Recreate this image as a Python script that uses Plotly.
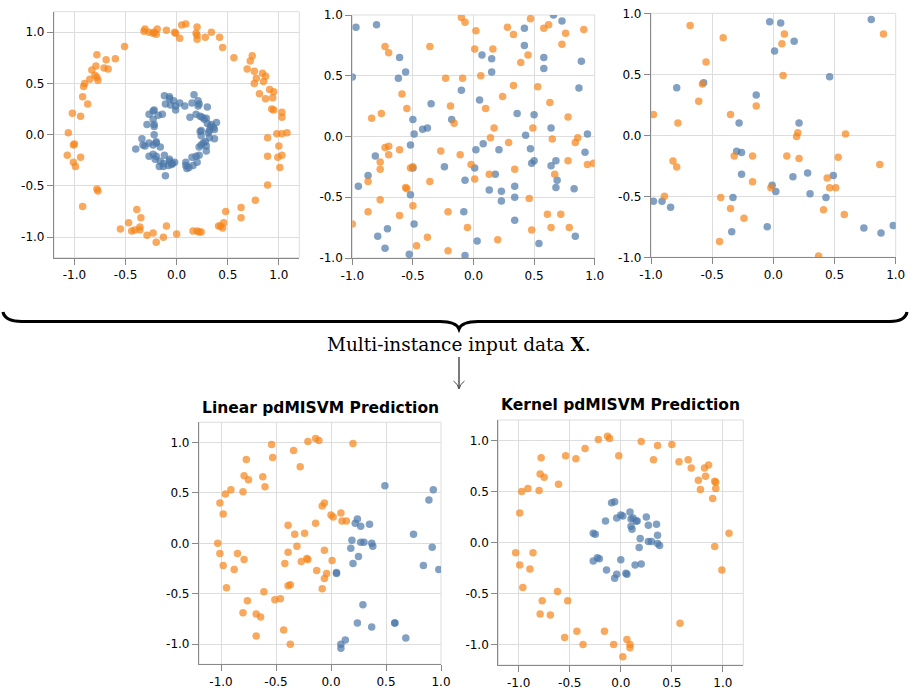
import plotly.graph_objects as go

# ---------------- data ----------------
tick_vals = [-1.0, -0.5, 0.0, 0.5, 1.0]
tick_text = ["-1.0", "-0.5", "0.0", "0.5", "1.0"]

# Panel 1: concentric rings
p1_orange_x = [-0.31,-0.32,-0.27,-0.23,-0.22,-0.19,-0.20,-0.10,-0.02,-0.01,0.05,0.09,0.03,0.20,0.19,0.20,0.20,0.28,0.34,0.42,0.45,0.56,0.74,0.72,0.69,0.76,0.78,0.76,0.84,0.87,0.85,0.81,0.87,0.91,0.95,0.94,0.93,0.95,1.03,1.03,1.08,0.98,1.03,1.00,1.03,0.99,1.01,0.89,0.89,0.89,0.77,0.63,0.48,0.63,0.46,0.43,0.41,0.45,0.16,0.20,0.22,0.24,-0.10,0.00,-0.13,-0.20,-0.23,-0.29,-0.36,-0.36,-0.41,-0.44,-0.47,-0.39,-0.35,-0.55,-0.78,-0.77,-0.92,-1.07,-1.01,-1.00,-1.01,-0.99,-0.94,-1.06,-1.02,-0.94,-0.87,-0.92,-0.91,-0.90,-0.85,-0.78,-0.77,-0.80,-0.83,-0.79,-0.78,-0.71,-0.67,-0.69,-0.60,-0.51]
p1_orange_y = [1.03,1.01,1.00,0.99,1.00,1.03,0.98,1.02,1.00,0.99,1.07,1.08,0.94,1.05,0.99,0.97,0.93,0.95,1.00,0.95,0.85,0.75,0.77,0.72,0.64,0.62,0.55,0.50,0.60,0.57,0.52,0.40,0.35,0.44,0.42,0.36,0.25,0.24,0.22,0.17,0.02,0.01,0.01,-0.11,-0.20,-0.22,-0.32,-0.03,-0.21,-0.49,-0.64,-0.71,-0.75,-0.81,-0.86,-0.89,-0.89,-0.91,-0.94,-0.94,-0.95,-0.95,-0.89,-0.97,-1.00,-1.05,-0.96,-0.98,-0.90,-0.93,-0.93,-0.94,-0.86,-0.73,-0.81,-0.92,-0.53,-0.55,-0.70,-0.20,-0.10,-0.09,-0.27,-0.31,-0.22,0.02,0.21,0.18,0.30,0.37,0.47,0.50,0.54,0.56,0.53,0.58,0.63,0.67,0.78,0.65,0.64,0.73,0.74,0.86]
p1_blue_x = [-0.12,-0.07,-0.07,-0.03,0.03,0.08,-0.11,-0.06,-0.01,-0.01,0.17,0.15,0.21,0.22,0.21,0.30,0.13,0.19,0.23,0.25,0.27,0.29,0.30,0.34,0.33,0.32,0.39,0.36,0.37,0.31,0.24,0.23,0.24,0.32,0.37,0.28,0.26,0.24,0.29,0.22,0.29,0.22,0.19,0.15,0.20,0.16,0.12,0.09,0.09,0.10,-0.02,-0.04,-0.07,-0.07,-0.08,-0.05,-0.11,-0.13,-0.17,-0.13,-0.12,-0.16,-0.20,-0.23,-0.27,-0.31,-0.33,-0.34,-0.40,-0.22,-0.22,-0.22,-0.29,-0.23,-0.18,-0.14,-0.22,-0.23,-0.27,-0.20,-0.20,-0.16,-0.21,-0.23,-0.27]
p1_blue_y = [0.38,0.37,0.35,0.33,0.31,0.28,0.30,0.29,0.24,0.28,0.39,0.31,0.33,0.30,0.28,0.27,0.17,0.20,0.18,0.17,0.15,0.16,0.11,0.10,0.08,0.04,0.12,0.07,0.05,0.02,0.04,0.03,-0.01,-0.03,-0.04,-0.07,-0.08,-0.10,-0.11,-0.12,-0.16,-0.20,-0.21,-0.22,-0.27,-0.30,-0.32,-0.27,-0.30,-0.33,-0.27,-0.28,-0.24,-0.26,-0.30,-0.29,-0.40,-0.31,-0.31,-0.28,-0.20,-0.12,-0.07,-0.10,-0.08,-0.11,-0.10,-0.04,-0.14,0.00,0.08,0.10,0.10,0.15,0.19,0.20,0.24,0.23,0.20,-0.08,-0.21,-0.26,-0.24,-0.19,-0.21]

# Panel 2: bag 1
p2_blue_x = [-0.97,-0.80,-1.00,-0.61,-0.56,-0.62,-0.35,-0.50,-0.49,-0.42,-0.38,-0.52,-0.81,-0.87,-0.95,-0.79,-0.71,-0.73,-0.53,-0.52,-0.50,-0.49,-0.24,-0.18,-0.10,-0.07,-0.08,-0.07,0.03,0.01,0.02,0.08,0.05,0.07,0.15,0.15,0.21,0.18,0.13,0.23,0.23,0.34,0.34,0.34,0.36,0.42,0.42,0.43,0.47,0.48,0.50,0.50,0.58,0.58,0.64,0.64,0.68,0.69,0.68,0.66,0.73,0.89,0.87,0.94,0.92,0.83,0.84,0.54]
p2_blue_y = [0.90,0.92,0.49,0.65,0.53,0.48,0.27,0.14,0.02,0.06,0.07,-0.07,-0.16,-0.32,-0.41,-0.82,-0.76,-0.92,-0.97,-0.48,-0.26,-0.72,-0.25,0.14,0.38,-0.36,-0.62,-0.98,-0.86,-0.26,-0.11,-0.06,0.30,0.67,0.64,0.53,-0.11,-0.31,-0.44,-0.45,-0.53,-0.41,-0.50,-0.69,0.19,0.75,0.89,0.01,-0.10,-0.22,-0.20,0.18,0.65,0.56,0.07,-0.24,-0.20,-0.36,-0.42,1.00,0.95,0.62,0.40,0.02,-0.13,-0.43,-0.82,-0.88]
p2_orange_x = [-0.73,-0.70,-0.84,-0.76,-0.59,-0.55,-0.73,-0.70,-0.70,-0.77,-0.77,-0.61,-0.87,-0.87,-1.00,-0.77,-0.61,-0.56,-0.55,-0.52,-0.50,-0.50,-0.47,-0.38,-0.36,-0.36,-0.27,-0.23,-0.19,-0.16,-0.21,-0.21,-0.11,-0.10,-0.07,-0.09,-0.05,-0.02,0.01,0.02,0.01,0.06,0.10,0.14,0.13,0.16,0.17,0.20,0.24,0.28,0.29,0.33,0.34,0.33,0.39,0.45,0.47,0.46,0.49,0.48,0.53,0.58,0.62,0.63,0.65,0.67,0.61,0.64,0.73,0.76,0.72,0.78,0.78,0.79,0.84,0.86,0.91,0.94,0.99]
p2_orange_y = [0.74,0.69,0.15,0.19,0.35,0.23,-0.09,-0.08,-0.15,-0.21,-0.27,-0.11,-0.37,-0.62,-0.72,-0.52,-0.65,-0.42,-0.43,-0.26,-0.25,-0.57,-0.90,-0.83,-0.37,0.74,-0.12,0.48,0.25,0.11,-0.62,-0.94,-0.15,0.98,0.94,0.48,-0.75,-0.23,-0.35,0.87,0.72,0.50,0.23,-0.01,-0.31,0.72,0.07,-0.85,0.33,0.90,-0.05,0.84,-0.27,0.42,0.61,0.67,0.97,-0.51,0.07,-0.77,0.41,0.89,0.92,0.28,-0.02,-0.31,-0.64,-0.75,0.76,0.85,-0.64,0.16,-0.20,-0.75,-0.05,-0.01,0.88,-0.23,-0.22]

# Panel 3: bag 2
p3_blue_x = [-0.03,0.06,0.01,0.17,0.80,0.46,-0.14,-0.79,-0.57,-0.28,0.21,-0.30,-0.26,-0.26,-0.33,-0.34,-0.05,-0.01,0.02,0.16,0.28,0.30,0.43,0.49,-0.98,-0.91,-0.84,0.74,0.88,0.98]
p3_blue_y = [0.93,0.92,0.69,0.77,0.95,0.48,0.33,0.39,0.43,0.10,0.10,-0.13,-0.14,-0.32,-0.51,-0.79,-0.75,-0.41,-0.46,-0.34,-0.31,-0.48,-0.51,-0.33,-0.54,-0.54,-0.59,-0.76,-0.80,-0.74]
p3_orange_x = [-0.68,-0.41,-0.55,-0.58,-0.61,-0.98,-0.78,-0.82,-0.79,-0.89,-0.35,-0.14,-0.32,-0.17,-0.17,-0.02,-0.43,-0.35,-0.24,-0.44,0.09,0.07,0.08,0.20,0.19,0.11,0.21,0.37,0.41,0.44,0.46,0.51,0.53,0.59,0.58,0.87,0.90]
p3_orange_y = [0.90,0.80,0.60,0.42,0.28,0.17,0.10,-0.21,-0.26,-0.50,0.17,0.24,-0.17,-0.17,-0.38,-0.43,-0.51,-0.60,-0.68,-0.87,0.83,0.75,0.49,0.02,-0.01,-0.17,-0.19,-0.99,-0.61,-0.35,-0.43,-0.43,-0.18,0.01,-0.65,-0.24,0.83]

# Panel 4: linear pdMISVM prediction
p4_orange_x = [-1.01,-0.98,-1.03,-1.01,-0.98,-0.95,-0.88,-0.85,-0.79,-0.80,-0.76,-0.68,-0.68,-0.64,-0.61,-0.51,-0.46,-0.43,-0.37,-0.39,-0.37,-0.42,-0.39,-0.39,-0.33,-0.24,-0.31,-0.27,-0.22,-0.21,-0.14,-0.13,-0.08,-0.08,-0.06,-0.06,-0.06,-0.04,0.00,0.02,0.01,0.09,0.10,0.14,0.20,-0.96,-0.91,-0.80,-0.77,-0.75,-0.79,-0.62,-0.60,-0.54,-0.53,-0.34,-0.28,-0.21,-0.14,-0.11]
p4_orange_y = [0.40,0.29,0.00,-0.10,-0.22,-0.44,-0.26,-0.10,-0.16,-0.69,-0.57,-0.70,-0.92,-0.73,-0.48,-0.56,-0.55,-0.86,-0.41,-0.42,-1.00,-0.20,0.18,-0.09,0.09,0.10,-0.03,-0.18,-0.15,-0.16,0.20,-0.27,-0.45,0.37,0.40,-0.07,-0.35,-0.30,0.28,0.26,-0.17,0.30,0.22,0.22,0.99,0.49,0.53,0.51,0.83,0.63,0.67,0.66,0.56,0.98,0.85,0.92,0.76,1.01,1.04,1.02]
p4_blue_x = [0.05,0.05,0.09,0.09,0.13,0.22,0.24,0.27,0.18,0.19,0.20,0.25,0.27,0.30,0.35,0.37,0.38,0.29,0.24,0.37,0.58,0.58,0.68,0.49,0.75,0.84,0.89,0.93,0.92,0.98]
p4_blue_y = [-0.30,-0.29,-1.00,-1.04,-0.96,0.20,0.24,0.17,-0.05,0.03,-0.20,-0.13,0.01,0.01,0.19,0.00,-0.03,-0.61,-0.79,-0.83,-0.79,-0.79,-0.94,0.57,0.09,-0.22,0.43,0.53,-0.04,-0.26]

# Panel 5: kernel pdMISVM prediction
p5_orange_x = [-0.13,-0.11,-0.22,0.20,-0.02,-0.35,-0.54,-0.44,0.36,0.50,0.32,0.57,0.66,0.69,0.82,0.86,0.83,0.76,0.78,0.92,0.93,0.93,0.90,1.06,0.92,0.99,-0.78,-0.79,-0.75,-0.80,-0.91,-0.97,-0.99,-1.03,-0.99,-0.96,-0.89,-0.86,-0.79,-0.77,-0.69,-0.62,-0.52,-0.55,-0.43,-0.37,-0.16,-0.07,0.06,0.09,0.09,0.02,0.58,-0.61]
p5_orange_y = [1.04,1.02,1.01,0.99,0.85,0.92,0.85,0.82,0.95,0.96,0.81,0.79,0.81,0.73,0.73,0.76,0.65,0.61,0.52,0.60,0.59,0.53,0.43,0.09,-0.04,-0.27,0.83,0.67,0.64,0.51,0.53,0.50,0.29,-0.10,-0.22,-0.44,-0.26,-0.10,-0.70,-0.57,-0.71,-0.48,-0.57,-0.93,-0.87,-1.00,-0.87,-1.00,-0.95,-1.00,-1.03,-1.12,-0.79,0.57]
p5_blue_x = [-0.09,-0.06,-0.15,-0.04,0.00,0.02,0.09,0.10,0.12,0.15,0.16,0.25,0.27,0.35,0.10,0.11,-0.27,-0.25,0.19,0.27,0.30,0.36,0.38,0.18,0.14,0.20,-0.27,-0.23,-0.21,0.00,-0.14,-0.04,-0.06,0.05,0.06,0.36]
p5_blue_y = [0.39,0.40,0.21,0.24,0.27,0.26,0.30,0.23,0.24,0.21,0.21,0.25,0.17,0.18,0.16,0.13,0.09,0.08,0.04,0.01,0.01,-0.01,-0.03,-0.05,-0.22,-0.21,-0.18,-0.15,-0.16,-0.17,-0.27,-0.31,-0.35,-0.30,-0.31,0.07]

BLUE = "#4c78a8"
ORANGE = "#f58518"
W, H = 910, 688

fig = go.Figure()

def px_dom(a, b, n):
    return [a / n, b / n]

def ydom(top, bottom):
    return [1 - bottom / H, 1 - top / H]

panels = [
    # (pixel box left, right, top, bottom), xrange, yrange, series
    ((54, 299.3, 11.7, 257.7), [-1.2, 1.2], [-1.2, 1.2],
     [(p1_blue_x, p1_blue_y, BLUE), (p1_orange_x, p1_orange_y, ORANGE)]),
    ((352.3, 594.7, 15, 258), [-1.0, 1.0], [-1.0, 1.0],
     [(p2_blue_x, p2_blue_y, BLUE), (p2_orange_x, p2_orange_y, ORANGE)]),
    ((651, 895.7, 13.3, 257.3), [-1.0, 1.0], [-1.0, 1.0],
     [(p3_blue_x, p3_blue_y, BLUE), (p3_orange_x, p3_orange_y, ORANGE)]),
    ((199, 441, 422.3, 664.3), [-1.2, 1.0], [-1.2, 1.2],
     [(p4_blue_x, p4_blue_y, BLUE), (p4_orange_x, p4_orange_y, ORANGE)]),
    ((498.3, 743.3, 420, 665), [-1.2, 1.2], [-1.2, 1.2],
     [(p5_blue_x, p5_blue_y, BLUE), (p5_orange_x, p5_orange_y, ORANGE)]),
]

tickfont = dict(family="DejaVu Sans", size=12, color="#000")
shapes = []
for i, (box, xr, yr, series) in enumerate(panels, start=1):
    xa = "x" if i == 1 else f"x{i}"
    ya = "y" if i == 1 else f"y{i}"
    for sx, sy, col in series:
        fig.add_trace(go.Scatter(
            x=sx, y=sy, mode="markers", xaxis=xa, yaxis=ya,
            marker=dict(size=7.5, color=col, opacity=0.7, line=dict(width=0)),
            showlegend=False, hoverinfo="x+y"))
    l, r, t, b = box
    common = dict(showgrid=True, gridcolor="#ddd", gridwidth=1, zeroline=False,
                  showline=True, linecolor="#888", linewidth=1.2,
                  ticks="outside", ticklen=6, tickcolor="#888", tickwidth=1.2,
                  tickvals=tick_vals, ticktext=tick_text, tickfont=tickfont,
                  automargin=False, fixedrange=True)
    fig.layout[f"xaxis{'' if i == 1 else i}"] = dict(
        domain=px_dom(l, r, W), range=xr, anchor=ya, **common)
    fig.layout[f"yaxis{'' if i == 1 else i}"] = dict(
        domain=ydom(t, b), range=yr, anchor=xa, **common)
    shapes.append(dict(type="rect", xref=f"{xa} domain", yref=f"{ya} domain",
                       x0=0, x1=1, y0=0, y1=1, line=dict(color="#ddd", width=1),
                       layer="below"))

def P(x, y):
    return f"{x / W:.5f},{1 - y / H:.5f}"

brace = (f"M{P(3,312)} Q{P(5,321.5)} {P(22,321.5)} L{P(440,321.5)} "
         f"Q{P(456,321.5)} {P(459,329)} Q{P(462,321.5)} {P(478,321.5)} "
         f"L{P(890,321.5)} Q{P(905,321.5)} {P(907,312)}")
shapes.append(dict(type="path", xref="paper", yref="paper", path=brace,
                   line=dict(color="black", width=3.2)))
shapes.append(dict(type="path", xref="paper", yref="paper",
                   path=f"M{P(459,357)} L{P(459,388)}",
                   line=dict(color="#222", width=1.2)))
shapes.append(dict(type="path", xref="paper", yref="paper",
                   path=f"M{P(453.5,381)} Q{P(458,384)} {P(459,389)} Q{P(460,384)} {P(464.5,381)}",
                   line=dict(color="#444", width=1)))

annotations = [
    dict(text="Multi-instance input data <b>X</b>.", x=459 / W, y=1 - 344 / H,
         xref="paper", yref="paper", showarrow=False, xanchor="center", yanchor="middle",
         font=dict(family="DejaVu Serif", size=18.5, color="black")),
    dict(text="<b>Linear pdMISVM Prediction</b>", x=320 / W, y=1 - 408 / H,
         xref="paper", yref="paper", showarrow=False, xanchor="center", yanchor="middle",
         font=dict(family="DejaVu Sans", size=15.5, color="black")),
    dict(text="<b>Kernel pdMISVM Prediction</b>", x=620.5 / W, y=1 - 405 / H,
         xref="paper", yref="paper", showarrow=False, xanchor="center", yanchor="middle",
         font=dict(family="DejaVu Sans", size=15.5, color="black")),
]

fig.update_layout(width=W, height=H, margin=dict(l=0, r=0, t=0, b=0, autoexpand=False),
                  paper_bgcolor="white", plot_bgcolor="white",
                  shapes=shapes, annotations=annotations, showlegend=False)

fig.write_html("out.html", config={"displayModeBar": False},
               post_script="document.body.style.margin='0px';"
                           "document.body.style.overflow='hidden';")
